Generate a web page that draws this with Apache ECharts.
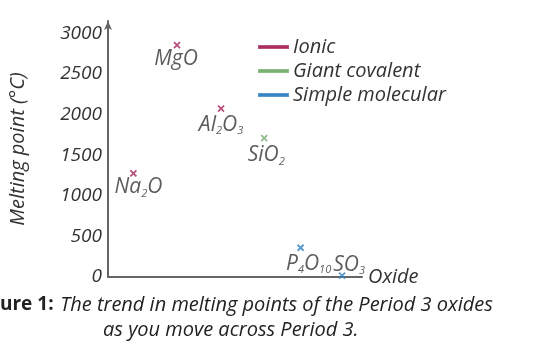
<!DOCTYPE html>
<html>
<head>
<meta charset="utf-8">
<script src="https://cdn.jsdelivr.net/npm/echarts@6/dist/echarts.min.js"></script>
<style>
  html, body { margin: 0; padding: 0; background: #fff; }
  #chart { width: 537px; height: 352px; }
</style>
</head>
<body>
<div id="chart"></div>
<script>
// oxides of period 3, x = position along the axis, y = melting point (°C)
var oxides = ['Na2O', 'MgO', 'Al2O3', 'SiO2', 'P4O10', 'SO3']
var xPos = [0.6, 1.63, 2.67, 3.69, 4.55, 5.53]
var meltingPoints = [1275, 2852, 2072, 1710, 360, 17]
var bondType = ['Ionic', 'Ionic', 'Ionic', 'Giant covalent', 'Simple molecular', 'Simple molecular']
var groups = ['Ionic', 'Giant covalent', 'Simple molecular']
var yTicks = [0, 500, 1000, 1500, 2000, 2500, 3000]

var colors = {
  'Ionic': '#a8255c',
  'Giant covalent': '#72ad69',
  'Simple molecular': '#2e7fc1'
}
var font = '"Open Sans", sans-serif'

// formula text with subscripts (rich text)
function formula(name) {
  var out = ''
  var parts = name.match(/[A-Za-z]+|\d+/g)
  parts.forEach(function (p) {
    if (/\d/.test(p)) out += '{s|' + p + '}'
    else out += '{a|' + p + '}'
  })
  return out
}

// label offsets around the cross
var labelOffset = {
  'Na2O': [5, 14],
  'MgO': [-1, 14],
  'Al2O3': [0, 16],
  'SiO2': [2, 17],
  'P4O10': [8, 16],
  'SO3': [7, -11]
}

var series = groups.map(function (g) {
  var pts = []
  for (var i = 0; i < oxides.length; i++) {
    if (bondType[i] != g) continue
    pts.push({
      name: oxides[i],
      value: [xPos[i], meltingPoints[i]],
      label: { offset: labelOffset[oxides[i]] }
    })
  }
  return {
    name: g,
    type: 'scatter',
    symbol: 'path://M0,0L10,10M10,0L0,10',
    symbolSize: 6,
    itemStyle: { color: colors[g], borderColor: colors[g], borderWidth: 1.8 },
    label: {
      show: true,
      position: 'inside',
      formatter: function (p) { return formula(p.name) },
      rich: {
        a: { fontFamily: font, fontStyle: 'italic', fontSize: 21, color: '#333', lineHeight: 22 },
        s: { fontFamily: font, fontStyle: 'italic', fontSize: 11, color: '#333', lineHeight: 11, padding: [13, 0, 0, 0] }
      }
    },
    data: pts
  }
})

var chart = echarts.init(document.getElementById('chart'))
chart.setOption({
  animation: false,
  grid: { left: 108, right: 175, top: 21, bottom: 75 },
  legend: {
    orient: 'vertical',
    left: 258,
    top: 37,
    padding: 0,
    icon: 'rect',
    itemWidth: 29,
    itemHeight: 2,
    itemGap: 4,
    data: groups,
    textStyle: { fontFamily: font, fontStyle: 'italic', fontSize: 20, color: '#333', lineHeight: 18.5 }
  },
  xAxis: {
    type: 'value',
    min: 0,
    max: 6,
    name: 'Oxide',
    nameLocation: 'end',
    nameGap: 6,
    nameTextStyle: { fontFamily: font, fontStyle: 'italic', fontSize: 20, color: '#333', padding: [6, 0, 0, 0] },
    axisLine: { lineStyle: { color: '#666', width: 2 } },
    axisTick: { show: false },
    axisLabel: { show: false },
    splitLine: { show: false }
  },
  yAxis: {
    type: 'value',
    min: 0,
    max: 3150,
    interval: 500,
    name: 'Melting point (°C)',
    nameLocation: 'middle',
    nameGap: 80,
    nameTextStyle: { fontFamily: font, fontStyle: 'italic', fontSize: 20, color: '#333' },
    axisLine: { show: true, symbol: ['none', 'arrow'], symbolSize: [6, 9], lineStyle: { color: '#666', width: 2 } },
    axisTick: { show: false },
    axisLabel: {
      showMaxLabel: false,
      margin: 6,
      fontFamily: font,
      fontStyle: 'italic',
      fontSize: 19,
      color: '#333',
      formatter: function (v) { return yTicks.indexOf(v) >= 0 ? String(v) : '' }
    },
    splitLine: { show: false }
  },
  graphic: [{
    type: 'text',
    left: 0,
    top: 295,
    style: {
      text: '{b|ure 1:}  {i|The trend in melting points of the Period 3 oxides}',
      rich: {
        b: { fontFamily: font, fontWeight: 'bold', fontSize: 19, fill: '#222' },
        i: { fontFamily: font, fontStyle: 'italic', fontSize: 20, fill: '#222' }
      }
    }
  }, {
    type: 'text',
    left: 103,
    top: 320,
    style: { text: 'as you move across Period 3.', fontFamily: font, fontStyle: 'italic', fontSize: 20, fill: '#222' }
  }],
  series: series
})
</script>
</body>
</html>
